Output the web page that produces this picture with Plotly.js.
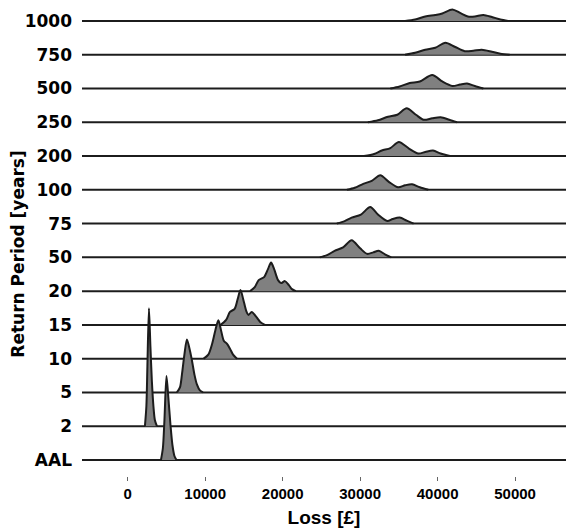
<!DOCTYPE html>
<html>
<head>
<meta charset="utf-8">
<script src="https://cdn.plot.ly/plotly-3.0.1.min.js"></script>
<style>html,body{margin:0;padding:0;background:#fff;}#chart{width:566px;height:528px;}</style>
</head>
<body>
<div id="chart"></div>
<script>
// Return-period categories (bottom to top)
const categories = ['AAL','2','5','10','15','20','50','75','100','200','250','500','750','1000'];
const xTicks = [0, 10000, 20000, 30000, 40000, 50000];

const lossAAL = [4290, 4540, 4740, 5000, 5250, 5510, 5770, 6030, 6290];
const densAAL = [0, 12, 40, 84, 62, 36, 15, 4, 0];

const loss2 = [2220, 2410, 2540, 2740, 2930, 3120, 3320, 3510, 3770];
const dens2 = [0, 20, 60, 118, 80, 45, 20, 6, 0];

const loss5 = [6350, 6740, 7000, 7320, 7640, 7970, 8290, 8610, 8930, 9320, 9710];
const dens5 = [0, 5, 18, 38, 53, 44, 32, 18, 8, 2, 0];

const loss10 = [9800, 10400, 10900, 11300, 11700, 12000, 12400, 12800, 13200, 13600, 14100];
const dens10 = [0, 4, 15, 28, 38.5, 30, 18, 15, 10, 4, 0];

const loss15 = [12000, 12700, 13200, 13800, 14200, 14550, 14900, 15300, 15600, 16000, 16600, 17100, 17700];
const dens15 = [0, 5, 13, 16, 26, 35, 26, 14, 10, 13, 8, 3, 0];

const loss20 = [15800, 16400, 16900, 17600, 18100, 18500, 18900, 19400, 19800, 20300, 20800, 21200, 21700];
const dens20 = [0, 4, 11, 14, 22, 28.5, 22, 11, 8, 10, 6, 2, 0];

const loss50 = [24800, 25800, 26700, 27800, 28900, 30000, 30900, 31700, 32400, 33200, 34000];
const dens50 = [0, 2.5, 6.5, 10, 17, 9, 3.5, 5, 6.5, 3, 0];

const loss75 = [27000, 28000, 28900, 30100, 31300, 32300, 33500, 34200, 35100, 36000, 36900];
const dens75 = [0, 2.5, 6, 9, 16.5, 9, 2.5, 4.5, 6, 3, 0];

const loss100 = [28300, 29300, 30400, 31500, 32600, 33700, 34900, 35800, 36700, 37700, 38800];
const dens100 = [0, 2, 6, 9, 14.5, 8, 2.5, 4.5, 5.5, 2.5, 0];

const loss200 = [30500, 31800, 32800, 33900, 35000, 36300, 37500, 38400, 39400, 40400, 41600];
const dens200 = [0, 2, 5.5, 8, 14, 7.5, 2.5, 4, 5.5, 2.5, 0];

const loss250 = [31000, 32300, 33600, 34800, 36000, 37200, 38200, 39300, 40400, 41500, 42500];
const dens250 = [0, 2, 5.5, 7.5, 14, 7.5, 2.5, 4, 5, 2.5, 0];

const loss500 = [33900, 35100, 36400, 37700, 39300, 40600, 41900, 42900, 43800, 44800, 45900];
const dens500 = [0, 2, 5.5, 7, 13.5, 7, 2.5, 4, 5, 2.5, 0];

const loss750 = [35800, 37100, 38400, 39700, 41000, 42200, 43500, 44600, 45700, 47000, 48100, 49300];
const dens750 = [0, 2, 5, 7, 12, 8, 3.5, 4, 5, 3, 1, 0];

const loss1000 = [35800, 37100, 38400, 39700, 40600, 41900, 42900, 43900, 44800, 45900, 47000, 48100, 49100];
const dens1000 = [0, 1.5, 4.5, 6, 7.5, 11.5, 8, 4.5, 4.5, 6, 4, 1.5, 0];

const ridges = [
  [lossAAL, densAAL], [loss2, dens2], [loss5, dens5], [loss10, dens10],
  [loss15, dens15], [loss20, dens20], [loss50, dens50], [loss75, dens75],
  [loss100, dens100], [loss200, dens200], [loss250, dens250], [loss500, dens500],
  [loss750, dens750], [loss1000, dens1000]
];

const SCALE = 1 / 33.77;   // relative density -> row spacing
const X_MIN = -7000, X_MAX = 60000;
const LINE = '#1c1c1c';

const traces = [];
for (let i = ridges.length - 1; i >= 0; i--) {
  const [lx, d] = ridges[i];
  traces.push({
    type: 'scatter', mode: 'lines',
    x: [X_MIN, X_MAX], y: [i, i],
    line: {color: LINE, width: 2},
    hoverinfo: 'skip', showlegend: false
  });
  traces.push({
    type: 'scatter', mode: 'lines',
    x: lx, y: d.map(v => i + v * SCALE),
    fill: 'toself', fillcolor: '#808080',
    line: {color: LINE, width: 2, shape: 'spline', smoothing: 0.8},
    hoverinfo: 'skip', showlegend: false
  });
}

const layout = {
  width: 566, height: 528,
  margin: {l: 82, r: 0, t: 0, b: 52},
  paper_bgcolor: '#fff', plot_bgcolor: '#fff',
  showlegend: false,
  xaxis: {
    range: [-5900, 56570],
    tickvals: xTicks, ticktext: xTicks.map(String),
    ticks: 'outside', ticklen: 4, tickcolor: '#666', tickwidth: 1,
    showgrid: false, zeroline: false, showline: false,
    tickfont: {family: 'Liberation Sans, Arial, sans-serif', size: 15, color: '#000', weight: 'bold'},
    title: {text: 'Loss [£]', font: {family: 'Liberation Sans, Arial, sans-serif', size: 19, color: '#000', weight: 'bold'}, standoff: 10},
    automargin: false
  },
  yaxis: {
    range: [-0.474, 13.62],
    tickvals: categories.map((c, i) => i), ticktext: categories,
    ticks: '', showgrid: false, zeroline: false, showline: false,
    ticklabelstandoff: 9,
    tickfont: {family: 'DejaVu Sans, sans-serif', size: 17, color: '#000', weight: 'bold'},
    automargin: false
  },
  annotations: [{
    text: 'Return Period [years]', textangle: -90,
    xref: 'paper', yref: 'paper', x: -0.1322, y: 0.465,
    xanchor: 'center', yanchor: 'middle', showarrow: false,
    font: {family: 'DejaVu Sans, sans-serif', size: 17, color: '#000', weight: 'bold'}
  }]
};

Plotly.newPlot('chart', traces, layout, {staticPlot: true, displayModeBar: false});
</script>
</body>
</html>
